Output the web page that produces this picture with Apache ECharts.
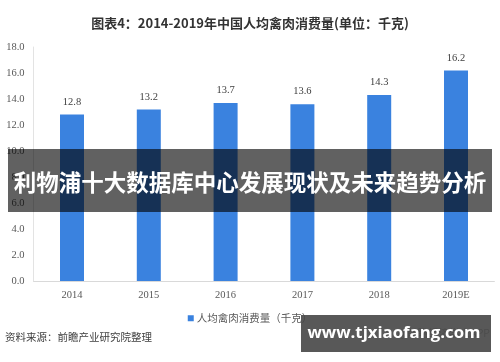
<!DOCTYPE html>
<html>
<head>
<meta charset="utf-8">
<script src="https://cdn.jsdelivr.net/npm/echarts@6/dist/echarts.min.js"></script>
<style>
html,body{margin:0;padding:0;background:#fff;}
#chart{width:500px;height:362px;}
</style>
</head>
<body>
<div id="chart"></div>
<script>
var categories = ['2014', '2015', '2016', '2017', '2018', '2019E'];
var values = [12.8, 13.2, 13.7, 13.6, 14.3, 16.2];
var seriesName = '人均禽肉消费量（千克）';
var yTicks = [0, 2, 4, 6, 8, 10, 12, 14, 16, 18];

var chart = echarts.init(document.getElementById('chart'), null, {renderer: 'canvas'});
var serif = '"Liberation Serif", "DejaVu Serif", serif';
var cjk = '"Noto Sans CJK SC", sans-serif';

chart.setOption({
  animation: false,
  backgroundColor: '#ffffff',
  title: {
    text: '图表4：2014-2019年中国人均禽肉消费量(单位：千克)',
    left: 'center',
    top: 12,
    textStyle: {fontFamily: cjk, fontSize: 13, fontWeight: 'bold', color: '#333333'}
  },
  legend: {
    data: [seriesName],
    left: 'center',
    top: 308,
    itemWidth: 6,
    itemHeight: 6,
    itemGap: 4,
    icon: 'rect',
    textStyle: {fontFamily: cjk, fontSize: 10.5, color: '#595959', padding: [0,0,0,-2]}
  },
  grid: {left: 33.6, right: 5.6, top: 47, bottom: 81, containLabel: false},
  xAxis: {
    type: 'category',
    data: categories,
    axisLine: {lineStyle: {color: '#d9d9d9'}},
    axisTick: {show: false},
    axisLabel: {fontFamily: serif, fontSize: 10.5, color: '#595959', margin: 9}
  },
  yAxis: {
    type: 'value',
    min: yTicks[0],
    max: yTicks[yTicks.length - 1],
    interval: 2,
    axisLine: {show: true, lineStyle: {color: '#e3e3e3'}},
    axisTick: {show: false},
    splitLine: {show: false},
    axisLabel: {
      fontFamily: serif, fontSize: 10.5, color: '#595959', margin: 9,
      formatter: function (v) { return v.toFixed(1); }
    }
  },
  series: [{
    name: seriesName,
    type: 'bar',
    data: values,
    barWidth: 24,
    itemStyle: {color: '#3a82df'},
    label: {
      show: true, position: 'top', distance: 7,
      fontFamily: serif, fontSize: 10.5, color: '#404040',
      formatter: function (p) { return p.value.toFixed(1); }
    }
  }],
  graphic: [
    {
      type: 'text', left: 5, top: 332,
      style: {text: '资料来源：前瞻产业研究院整理', font: '10.5px ' + cjk, fill: '#404040'}
    },
    {
      type: 'text', right: 10, top: 328,
      style: {text: '@前瞻经济学人APP', font: '10.5px ' + cjk, fill: '#808080'}
    },
    {
      type: 'rect', shape: {x: 8, y: 149, width: 484, height: 63},
      style: {fill: 'rgba(0,0,0,0.62)'}, z: 100
    },
    {
      type: 'text', x: 250, y: 182, z: 101,
      style: {text: '利物浦十大数据库中心发展现状及未来趋势分析', font: 'bold 22.5px ' + cjk, fill: '#ffffff', align: 'center', verticalAlign: 'middle'}
    },
    {
      type: 'rect', shape: {x: 301, y: 315, width: 190, height: 37},
      style: {fill: 'rgba(70,70,70,0.9)'}, z: 100
    },
    {
      type: 'text', x: 394, y: 333, z: 101,
      style: {text: 'www.tjxiaofang.com', font: 'bold 16.8px "Open Sans", "DejaVu Sans", sans-serif', fill: '#ffffff', align: 'center', verticalAlign: 'middle'}
    }
  ]
});
</script>
</body>
</html>
